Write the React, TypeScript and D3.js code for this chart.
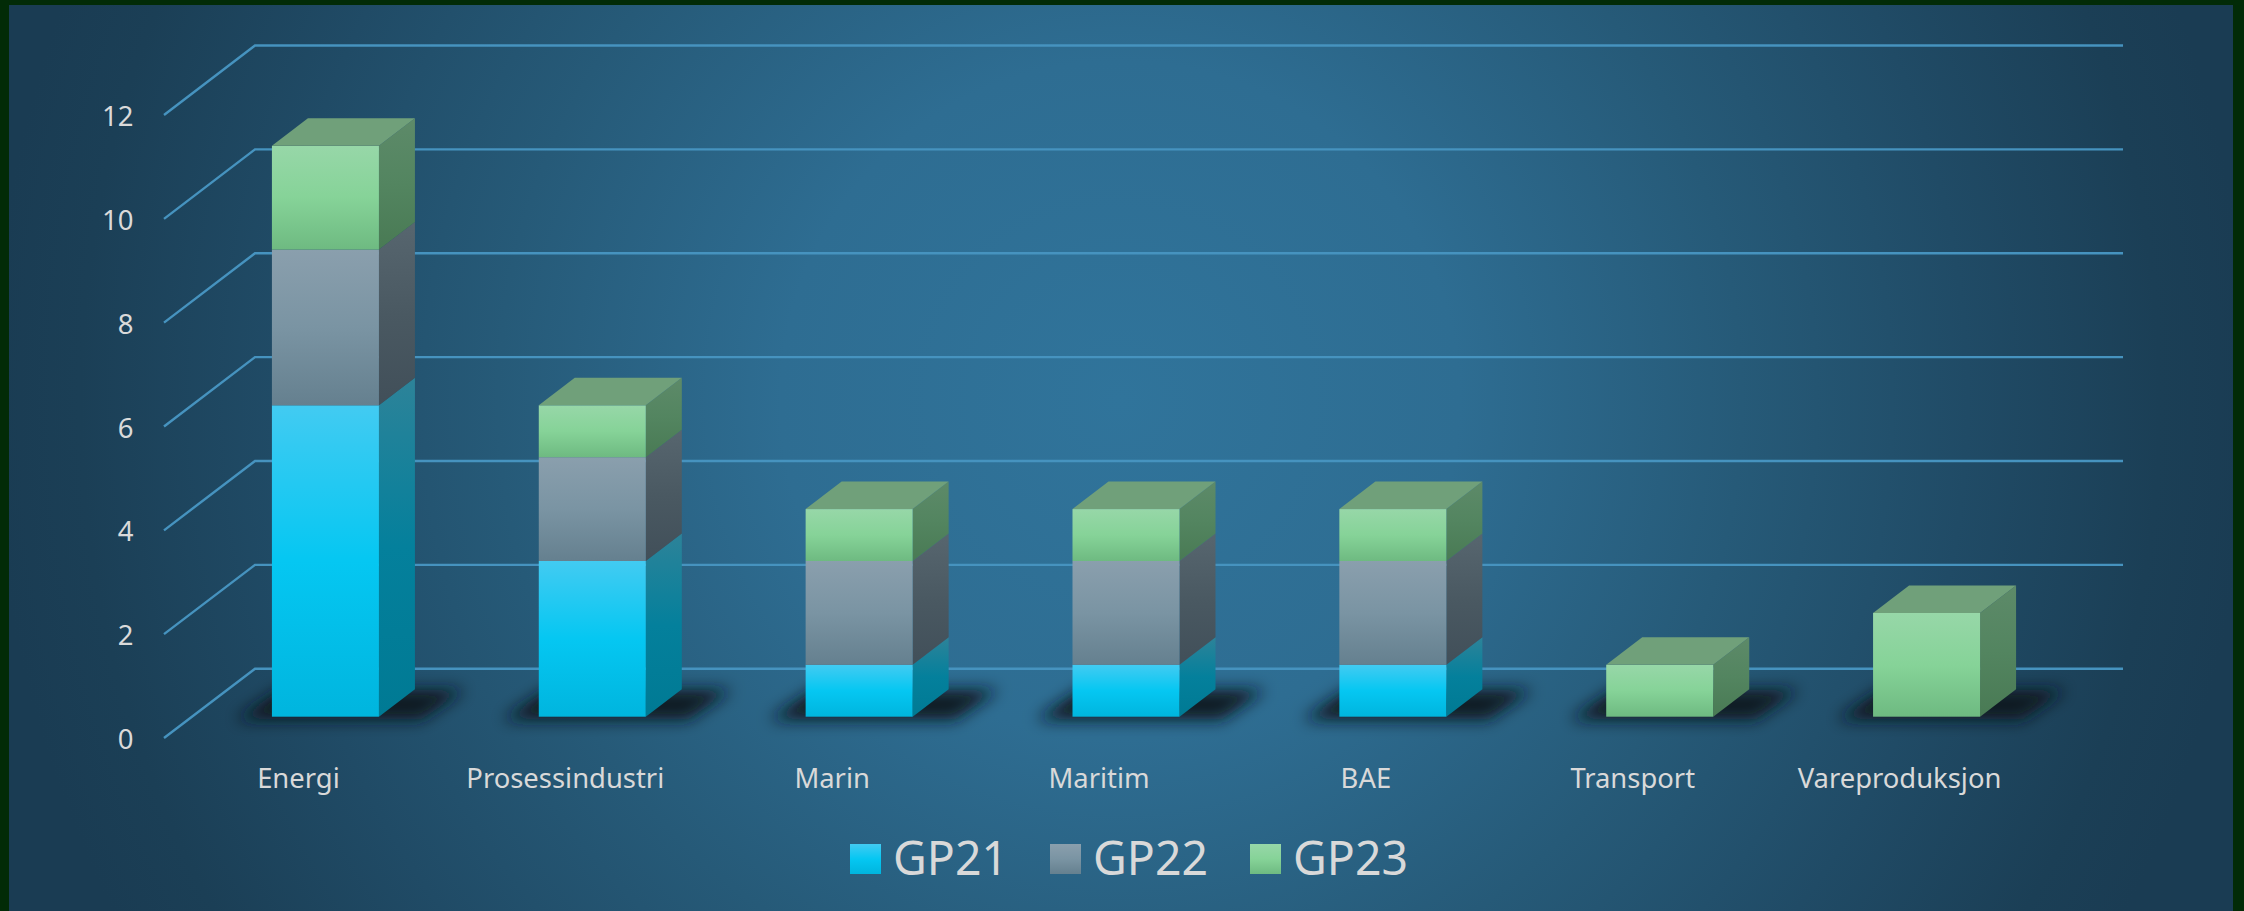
import React from "react";
import * as d3 from "d3";

const categories = ["Energi", "Prosessindustri", "Marin", "Maritim", "BAE", "Transport", "Vareproduksjon"];
const gp21 = [6, 3, 1, 1, 1, 0, 0];
const gp22 = [3, 2, 2, 2, 2, 0, 0];
const gp23 = [2, 1, 1, 1, 1, 1, 2];
const seriesNames = ["GP21", "GP22", "GP23"];
const yTicks = [0, 2, 4, 6, 8, 10, 12];

const W = 2244, H = 911;
const DX = 36, DY = 27.5;
const rows = categories.map((c, i) => ({ c, GP21: gp21[i], GP22: gp22[i], GP23: gp23[i] }));
const stacked = d3.stack<any>().keys(seriesNames)(rows);

const x = d3.scaleBand<string>().domain(categories).range([192, 2060]).paddingInner(0.599).paddingOuter(0.2995);
const yFront = d3.scaleLinear().domain([0, 12]).range([716.7, 93.9]);
const yBack = d3.scaleLinear().domain([0, 12]).range([668.7, 45.5]);
const yAxis = d3.scaleLinear().domain([0, 12]).range([738, 115]);
const gridStartFront = 164, gridStartBack = 255, gridEnd = 2123;

const faces: Record<string, { front: string[]; side: string[] }> = {
  GP21: { front: ["#42cbf2", "#05c7f2", "#00b5de"], side: ["#2d8399", "#04809c", "#007a94"] },
  GP22: { front: ["#8a9fad", "#7a94a3", "#65808f"], side: ["#57666f", "#4a5962", "#414f59"] },
  GP23: { front: ["#97d7a8", "#86d398", "#6eba81"], side: ["#5d8a69", "#538560", "#497a54"] },
};
const topColor = "#70a07a";
const poly = (p: number[][]) => p.map((d) => d.join(",")).join(" ");

export default function App() {
  const bw = x.bandwidth();
  return (
    <svg width={W} height={H} viewBox={`0 0 ${W} ${H}`} style={{ position: "absolute", left: 0, top: 0, display: "block" }} fontFamily="'Noto Sans', sans-serif">
      <defs>
        <radialGradient id="bg" gradientUnits="userSpaceOnUse" cx={1120} cy={400} r={1130}>
          <stop offset="0" stopColor="#30749b" />
          <stop offset="0.3" stopColor="#2e6d92" />
          <stop offset="0.55" stopColor="#265a78" />
          <stop offset="0.75" stopColor="#204b66" />
          <stop offset="0.92" stopColor="#1b3f56" />
          <stop offset="1" stopColor="#1a3c53" />
        </radialGradient>
        <filter id="blur" x="-40%" y="-100%" width="180%" height="300%">
          <feGaussianBlur stdDeviation="8" />
        </filter>
        {seriesNames.map((s) => (
          <React.Fragment key={s}>
            <linearGradient id={`front-${s}`} x1="0" y1="0" x2="0" y2="1">
              <stop offset="0" stopColor={faces[s].front[0]} />
              <stop offset="0.5" stopColor={faces[s].front[1]} />
              <stop offset="1" stopColor={faces[s].front[2]} />
            </linearGradient>
            <linearGradient id={`side-${s}`} x1="0" y1="0" x2="0" y2="1">
              <stop offset="0" stopColor={faces[s].side[0]} />
              <stop offset="0.5" stopColor={faces[s].side[1]} />
              <stop offset="1" stopColor={faces[s].side[2]} />
            </linearGradient>
          </React.Fragment>
        ))}
      </defs>
      <rect width={W} height={H} fill="#022b07" />
      <rect x={9} y={5} width={2224} height={H - 5} fill="url(#bg)" />

      {yTicks.map((t) => (
        <g key={t}>
          <polyline
            points={poly([[gridStartFront, yAxis(t)], [gridStartBack, yBack(t)], [gridEnd, yBack(t)]])}
            fill="none" stroke="#4693bf" strokeWidth={2.4}
          />
          <text x={133.5} y={yAxis(t) + 11} textAnchor="end" fontSize={27.5} fill="#dadada">{t}</text>
        </g>
      ))}

      {categories.map((c) => {
        const l = x(c)!;
        const b = yFront(0);
        return (
          <polygon key={c} filter="url(#blur)" fill="#0a1620" fillOpacity={0.95}
            points={poly([[l - 36, b + 3], [l + bw + 42, b + 3], [l + bw + 86, b - 27], [l + 8, b - 27]])} />
        );
      })}

      {categories.map((c, i) => {
        const l = x(c)!;
        const r = l + bw;
        const visible = stacked.filter((s) => s[i][1] > s[i][0]);
        const top = yFront(visible[visible.length - 1][i][1]);
        return (
          <g key={c}>
            {visible.map((s) => {
              const y0 = yFront(s[i][0]);
              const y1 = yFront(s[i][1]);
              return (
                <g key={s.key}>
                  <polygon points={poly([[r, y1], [r + DX, y1 - DY], [r + DX, y0 - DY], [r, y0]])} fill={`url(#side-${s.key})`} />
                  <rect x={l} y={y1} width={bw} height={y0 - y1} fill={`url(#front-${s.key})`} />
                </g>
              );
            })}
            <polygon points={poly([[l, top], [l + DX, top - DY], [r + DX, top - DY], [r, top]])} fill={topColor} />
          </g>
        );
      })}

      {categories.map((c) => (
        <text key={c} x={x(c)! + bw / 2 - 27} y={787.5} textAnchor="middle" fontSize={27.4} fill="#d9d9d9">{c}</text>
      ))}

      {seriesNames.map((s, i) => (
        <g key={s}>
          <rect x={850 + i * 200} y={844} width={31} height={30} fill={`url(#front-${s})`} />
          <text x={893 + i * 200} y={874.5} fontSize={47} fill="#d9d9d9" textLength={115} lengthAdjust="spacingAndGlyphs">{s}</text>
        </g>
      ))}
    </svg>
  );
}
